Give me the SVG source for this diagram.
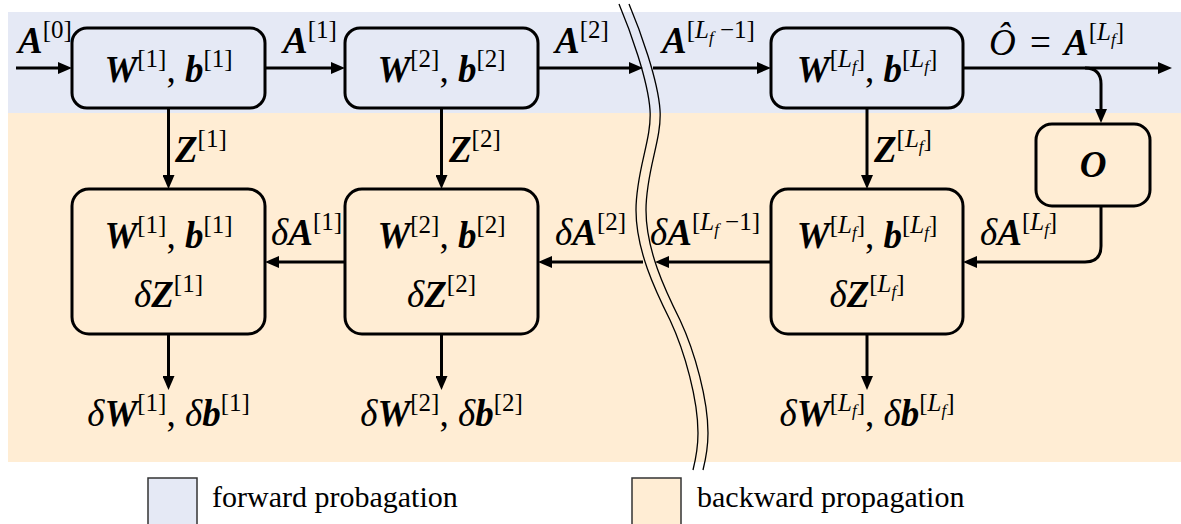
<svg xmlns="http://www.w3.org/2000/svg" width="1181" height="524" viewBox="0 0 1181 524">
<style>
.m{font-family:"Liberation Serif","Times New Roman","DejaVu Serif",serif;font-size:37px;fill:#000}
.bi{font-weight:bold;font-style:italic}
.it{font-style:italic}
.sup{font-size:25px;font-weight:normal;font-style:normal}
.sub{font-size:17px;font-style:italic;font-weight:normal}
.box{stroke:#000;stroke-width:3}
.fw{fill:#E5E9F5}
.bw{fill:#FFEDD4}
.ar{fill:none;stroke:#000;stroke-width:3;marker-end:url(#ah)}
.wave{fill:none;stroke:#000;stroke-width:1.3}
.leg{font-family:"Liberation Serif","Times New Roman","DejaVu Serif",serif;font-size:30px;fill:#000}
</style>
<defs>
<marker id="ah" viewBox="0 0 14 12" refX="6" refY="6" markerWidth="14" markerHeight="12" markerUnits="userSpaceOnUse" orient="auto">
<path d="M0,0 L14,6 L0,12 Z" fill="#000"/>
</marker>
</defs>
<g id="bands">
<rect x="8" y="12" width="1173" height="101" class="fw"/>
<rect x="8" y="113" width="1173" height="349" class="bw"/>
</g>
<g id="connectors">
<path class="ar" d="M16,68 H64"/>
<path class="ar" d="M265,68 H337"/>
<path class="ar" d="M538,68 H635"/>
<path class="ar" d="M653,68 H763"/>
<path class="ar" d="M963,68 H1164"/>
<path class="ar" d="M1085,68 Q1101,68 1101,84 V115"/>
<path class="ar" d="M168.5,108 V181"/>
<path class="ar" d="M441.5,108 V181"/>
<path class="ar" d="M867,108 V181"/>
<path class="ar" d="M345,262 H273"/>
<path class="ar" d="M643,262 H546"/>
<path class="ar" d="M771,262 H663"/>
<path class="ar" d="M1101,206 V246 Q1101,262 1085,262 H971"/>
<path class="ar" d="M168.5,334 V382"/>
<path class="ar" d="M441.5,334 V382"/>
<path class="ar" d="M867,334 V382"/>
</g>
<g id="break">
<path class="wave" d="M619,4 C630,30 648,80 650,110 C652,140 636,170 636,210 C636,250 655,290 670,320 C685,352 698,400 698,433 C698,450 695,462 693,470"/>
<path class="wave" transform="translate(10,0)" d="M619,4 C630,30 648,80 650,110 C652,140 636,170 636,210 C636,250 655,290 670,320 C685,352 698,400 698,433 C698,450 695,462 693,470"/>
</g>
<g id="labels">
<text class="m" x="18" y="53"><tspan class="bi">A</tspan><tspan class="sup" dy="-15">[0]</tspan></text>
<text class="m" x="283" y="53"><tspan class="bi">A</tspan><tspan class="sup" dy="-15">[1]</tspan></text>
<text class="m" x="555" y="53"><tspan class="bi">A</tspan><tspan class="sup" dy="-15">[2]</tspan></text>
<text class="m" x="662" y="53"><tspan class="bi">A</tspan><tspan class="sup" dy="-15">[<tspan class="it">L</tspan></tspan><tspan class="sub" dy="5">f</tspan><tspan class="sup" dy="-5"> −1]</tspan></text>
<text class="m" x="989" y="55"><tspan class="it">Ô</tspan><tspan x="1030">=</tspan><tspan class="bi" x="1064">A</tspan><tspan class="sup" dy="-15">[<tspan class="it">L</tspan></tspan><tspan class="sub" dy="5">f</tspan><tspan class="sup" dy="-5">]</tspan></text>
<text class="m" x="175" y="162"><tspan class="bi">Z</tspan><tspan class="sup" dy="-15">[1]</tspan></text>
<text class="m" x="449" y="162"><tspan class="bi">Z</tspan><tspan class="sup" dy="-15">[2]</tspan></text>
<text class="m" x="874" y="162"><tspan class="bi">Z</tspan><tspan class="sup" dy="-15">[<tspan class="it">L</tspan></tspan><tspan class="sub" dy="5">f</tspan><tspan class="sup" dy="-5">]</tspan></text>
<text class="m" x="271" y="245"><tspan class="it">δ</tspan><tspan class="bi">A</tspan><tspan class="sup" dy="-15">[1]</tspan></text>
<text class="m" x="555" y="245"><tspan class="it">δ</tspan><tspan class="bi">A</tspan><tspan class="sup" dy="-15">[2]</tspan></text>
<text class="m" x="650" y="245"><tspan class="it">δ</tspan><tspan class="bi">A</tspan><tspan class="sup" dy="-15">[<tspan class="it">L</tspan></tspan><tspan class="sub" dy="5">f</tspan><tspan class="sup" dy="-5"> −1]</tspan></text>
<text class="m" x="980" y="245"><tspan class="it">δ</tspan><tspan class="bi">A</tspan><tspan class="sup" dy="-15">[<tspan class="it">L</tspan></tspan><tspan class="sub" dy="5">f</tspan><tspan class="sup" dy="-5">]</tspan></text>
<text class="m" x="168.5" y="426" text-anchor="middle"><tspan class="it">δ</tspan><tspan class="bi">W</tspan><tspan class="sup" dy="-15">[1]</tspan><tspan dy="15">, </tspan><tspan class="it">δ</tspan><tspan class="bi">b</tspan><tspan class="sup" dy="-15">[1]</tspan></text>
<text class="m" x="441.5" y="426" text-anchor="middle"><tspan class="it">δ</tspan><tspan class="bi">W</tspan><tspan class="sup" dy="-15">[2]</tspan><tspan dy="15">, </tspan><tspan class="it">δ</tspan><tspan class="bi">b</tspan><tspan class="sup" dy="-15">[2]</tspan></text>
<text class="m" x="867" y="426" text-anchor="middle"><tspan class="it">δ</tspan><tspan class="bi">W</tspan><tspan class="sup" dy="-15">[<tspan class="it">L</tspan></tspan><tspan class="sub" dy="5">f</tspan><tspan class="sup" dy="-5">]</tspan><tspan dy="15">, </tspan><tspan class="it">δ</tspan><tspan class="bi">b</tspan><tspan class="sup" dy="-15">[<tspan class="it">L</tspan></tspan><tspan class="sub" dy="5">f</tspan><tspan class="sup" dy="-5">]</tspan></text>
</g>
<g id="f1">
<rect x="72" y="28" width="193" height="80" rx="15" class="box fw"/>
<text class="m" x="168.5" y="82" text-anchor="middle"><tspan class="bi">W</tspan><tspan class="sup" dy="-15">[1]</tspan><tspan dy="15">, </tspan><tspan class="bi">b</tspan><tspan class="sup" dy="-15">[1]</tspan></text>
</g>
<g id="f2">
<rect x="345" y="28" width="193" height="80" rx="15" class="box fw"/>
<text class="m" x="441.5" y="82" text-anchor="middle"><tspan class="bi">W</tspan><tspan class="sup" dy="-15">[2]</tspan><tspan dy="15">, </tspan><tspan class="bi">b</tspan><tspan class="sup" dy="-15">[2]</tspan></text>
</g>
<g id="fL">
<rect x="771" y="28" width="192" height="80" rx="15" class="box fw"/>
<text class="m" x="867" y="82" text-anchor="middle"><tspan class="bi">W</tspan><tspan class="sup" dy="-15">[<tspan class="it">L</tspan></tspan><tspan class="sub" dy="5">f</tspan><tspan class="sup" dy="-5">]</tspan><tspan dy="15">, </tspan><tspan class="bi">b</tspan><tspan class="sup" dy="-15">[<tspan class="it">L</tspan></tspan><tspan class="sub" dy="5">f</tspan><tspan class="sup" dy="-5">]</tspan></text>
</g>
<g id="O">
<rect x="1036" y="124" width="114" height="82" rx="16" class="box bw"/>
<text class="m" x="1093" y="177" text-anchor="middle"><tspan class="bi">O</tspan></text>
</g>
<g id="b1">
<rect x="72" y="189" width="193" height="145" rx="17" class="box bw"/>
<text class="m" x="168.5" y="248" text-anchor="middle"><tspan class="bi">W</tspan><tspan class="sup" dy="-15">[1]</tspan><tspan dy="15">, </tspan><tspan class="bi">b</tspan><tspan class="sup" dy="-15">[1]</tspan></text>
<text class="m" x="168.5" y="307" text-anchor="middle"><tspan class="it">δ</tspan><tspan class="bi">Z</tspan><tspan class="sup" dy="-15">[1]</tspan></text>
</g>
<g id="b2">
<rect x="345" y="189" width="193" height="145" rx="17" class="box bw"/>
<text class="m" x="441.5" y="248" text-anchor="middle"><tspan class="bi">W</tspan><tspan class="sup" dy="-15">[2]</tspan><tspan dy="15">, </tspan><tspan class="bi">b</tspan><tspan class="sup" dy="-15">[2]</tspan></text>
<text class="m" x="441.5" y="307" text-anchor="middle"><tspan class="it">δ</tspan><tspan class="bi">Z</tspan><tspan class="sup" dy="-15">[2]</tspan></text>
</g>
<g id="bL">
<rect x="771" y="189" width="192" height="145" rx="17" class="box bw"/>
<text class="m" x="867" y="248" text-anchor="middle"><tspan class="bi">W</tspan><tspan class="sup" dy="-15">[<tspan class="it">L</tspan></tspan><tspan class="sub" dy="5">f</tspan><tspan class="sup" dy="-5">]</tspan><tspan dy="15">, </tspan><tspan class="bi">b</tspan><tspan class="sup" dy="-15">[<tspan class="it">L</tspan></tspan><tspan class="sub" dy="5">f</tspan><tspan class="sup" dy="-5">]</tspan></text>
<text class="m" x="867" y="307" text-anchor="middle"><tspan class="it">δ</tspan><tspan class="bi">Z</tspan><tspan class="sup" dy="-15">[<tspan class="it">L</tspan></tspan><tspan class="sub" dy="5">f</tspan><tspan class="sup" dy="-5">]</tspan></text>
</g>
<g id="legend">
<rect x="148" y="478" width="49" height="50" fill="#E5E9F5" stroke="#333" stroke-width="1.5"/>
<text class="leg" x="212" y="507">forward probagation</text>
<rect x="632" y="478" width="49" height="50" fill="#FFEDD4" stroke="#333" stroke-width="1.5"/>
<text class="leg" x="697" y="507">backward propagation</text>
</g>
</svg>
